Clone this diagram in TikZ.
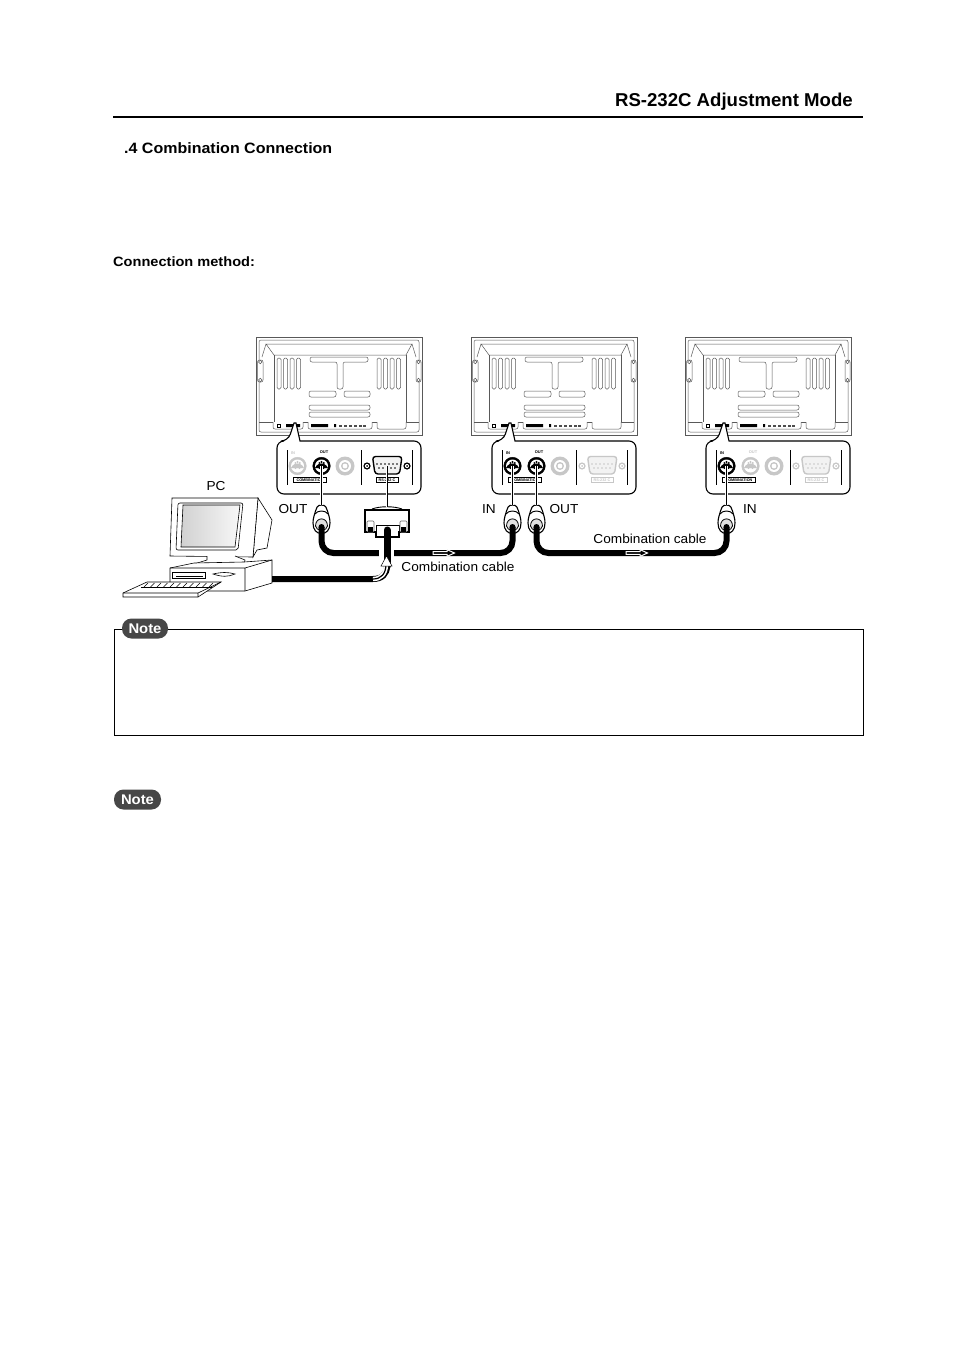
\documentclass[tikz,border=0pt]{standalone}
\usepackage{fontspec}
\setmainfont{Liberation Sans}
\tikzset{
  x=1pt,y=-1pt,
  thinline/.style={draw=black,line width=0.6pt,fill=white},
  panelline/.style={draw=black!65,line width=0.5pt,fill=white},
  calloutbox/.style={draw=black,line width=1.1pt,fill=white,rounded corners=7pt},
  cable/.style={line width=6pt,draw=black,rounded corners=12pt},
  plugbody/.style={minimum width=17pt,minimum height=28pt,inner sep=0pt},
  label/.style={font=\fontsize{13}{15}\selectfont\addfontfeature{FakeStretch=1.05},inner sep=0pt,anchor=center},
  notebadge/.style={fill=black!72,text=white,rounded corners=9.5pt,font=\fontsize{14}{16}\bfseries\selectfont\addfontfeature{FakeStretch=1.06},inner sep=0pt,minimum height=20pt},
  tiny/.style={font=\fontsize{4}{4}\bfseries\selectfont,inner sep=0pt},
  wire/.style={draw=black,line width=1pt,preaction={draw=white,line width=2.6pt}},
  flow/.style={draw=white,fill=black,line width=1pt,line join=miter},
}
% DIN jack: name, x, y, colour
\newcommand\dinjack[4]{%
  \node[circle,fill=#4,draw=#4,minimum size=17.6pt,inner sep=0pt] (#1) at (#2,#3) {};
  \fill[white] (#2,#3) circle (6.5);
  \fill[#4] (#2,#3) ++(-6.5,2) arc[start angle=200,end angle=340,radius=6.9] -- cycle;
  \foreach \dx/\dy in {-4/1,-2.2/-3,0/-4,2.2/-3,4/1,-2/2,2/2,0/1}{\fill[#4] (#2+\dx,#3+\dy) circle (1.05);}
}
% back panel with callout: name, x, y, IN colour, OUT colour, RS colour
\newcommand\backpanel[6]{%
 \begin{scope}[shift={(#2,#3)}]
  \node[rectangle,draw=black!65,line width=0.7pt,fill=white,minimum width=166pt,minimum height=98pt,inner sep=0pt] (#1) at (83,49) {};
  \draw[panelline,rounded corners=2pt] (3,3) rectangle (163,95);
  \draw[panelline] (3,85) -- (163,85);
  \draw[panelline] (10,7) -- (156,7) -- (150,18) -- (18,18) -- cycle;
  \draw[panelline] (18,18) -- (18,85) (150,18) -- (150,85);
  \draw[panelline] (10,7) -- (6,20) (156,7) -- (160,20);
  \foreach \sx in {21,27.5,34,40.5,121,127.5,134,140.5}{\draw[panelline,rounded corners=1.5pt] (\sx,21) rectangle (\sx+4,52);}
  \draw[panelline,rounded corners=2pt] (54,20) -- (112,20) -- (112,25) -- (87,25) -- (87,52) -- (81,52) -- (81,25) -- (54,25) -- cycle;
  \draw[panelline,rounded corners=2pt] (53,54) rectangle (80,60);
  \draw[panelline,rounded corners=2pt] (88,54) rectangle (114,60);
  \draw[panelline,rounded corners=2pt] (53,68) rectangle (114,73);
  \draw[panelline,rounded corners=2pt] (53,75) rectangle (114,80);
  \draw[panelline,rounded corners=2pt] (1.5,23) rectangle (7,45);
  \draw[panelline,rounded corners=2pt] (160,23) rectangle (165,45);
  \foreach \bx in {4.2,162.5}{\foreach \by in {25,43}{\draw[panelline] (\bx,\by) circle (1.8);}}
  \draw[panelline,rounded corners=2pt] (17,85) -- (17,92) -- (47,92) -- (47,85);
  \draw[panelline,rounded corners=2pt] (52,85) -- (52,92) -- (116,92) -- (116,85);
  \draw[panelline,rounded corners=2pt] (121,85) -- (121,92) -- (150,92) -- (150,85);
  \draw[black] (21,87) rectangle (24,90);
  \fill[black] (30,87) rectangle (37,90) (39,87) rectangle (44,90)
     (55,87) rectangle (72,90) (78,87) rectangle (80,90);
  \foreach \tx in {83,88,93,98,103,107}{\fill[black!70] (\tx,87.5) rectangle (\tx+2.5,89.5);}
  % callout
  \draw[calloutbox] (21,104) -- (32,104) [sharp corners] -- (38,86) -- (40,86) -- (44,104) [rounded corners=7pt] -- (165,104) -- (165,157) -- (21,157) -- cycle;
  \draw[black,line width=0.9pt] (31,113) -- (31,148) (105,113) -- (105,148) (156,113) -- (156,148);
  \dinjack{#1in}{41.5}{129}{#4}
  \dinjack{#1out}{65.5}{129}{#5}
  \node[tiny,text=#4] at (37,116) {IN};
  \node[tiny,text=#5] at (68,115.5) {OUT};
  \node[draw=black,line width=0.7pt,minimum width=33pt,minimum height=4.5pt,inner sep=0pt,font=\fontsize{3.8}{4}\bfseries\selectfont] at (54,143) {COMBINATION};
  % audio jack
  \fill[black!22] (89,129) circle (9.5);
  \fill[white] (89,129) circle (6);
  \fill[black!22] (89,129) circle (4);
  \fill[white] (89,129) circle (2.4);
  % D-sub
  \foreach \sx in {111,151}{\fill[#6] (\sx,129) circle (3.6); \fill[white] (\sx,129) circle (2.1); \fill[#6] (\sx,129) circle (1);}
  \draw[draw=#6,line width=1.4pt,fill=black!5,rounded corners=3pt] (116.5,119.5) -- (146,119.5) -- (143.5,137) -- (119,137) -- cycle;
  \node[inner sep=0pt,minimum width=0pt] (#1rs) at (131,129) {};
  \foreach \px in {121,125,129,133,137,141}{\fill[#6] (\px,127) circle (0.8);}
  \foreach \px in {123,127,131,135,139}{\fill[#6] (\px,131) circle (0.8);}
  \node[draw=#6,text=#6,line width=0.7pt,minimum width=22pt,minimum height=4.5pt,inner sep=0pt,font=\fontsize{3.8}{4}\bfseries\selectfont] at (131,143) {RS-232 C};
 \end{scope}
}
% plug: name, x
\newcommand\plug[2]{%
  \node[plugbody] (#1) at (#2,519) {};
  \draw[black,line width=1.1pt,fill=white] (#2,505) .. controls (#2+4,505) and (#2+5.5,508) .. (#2+6,511) .. controls (#2+7,515) and (#2+8.5,518) .. (#2+8.5,523) .. controls (#2+8.5,530) and (#2+5,533.5) .. (#2,533.5) .. controls (#2-5,533.5) and (#2-8.5,530) .. (#2-8.5,523) .. controls (#2-8.5,518) and (#2-7,515) .. (#2-6,511) .. controls (#2-5.5,508) and (#2-4,505) .. cycle;
  \draw[black,line width=0.9pt] (#2-6.5,514) .. controls (#2-4,510) and (#2+4,510) .. (#2+6.5,514);
  \draw[black,line width=0.8pt,fill=black!12] (#2-6,526) .. controls (#2-6,516.5) and (#2+6,516.5) .. (#2+6,526) .. controls (#2+6,531.5) and (#2-6,531.5) .. cycle;
  \coordinate (#1c) at (#2,527);
}
\newcommand\flowarrow[1]{%
  \draw[flow] (#1,551.7) -- (#1+14,551.7) -- (#1+14,549.6) -- (#1+21.5,553) -- (#1+14,556.4) -- (#1+14,554.3) -- (#1,554.3) -- cycle;
}
\begin{document}
\begin{tikzpicture}
\useasboundingbox (0,0) rectangle (954,1351);
\fill[white] (0,0) rectangle (954,1351);
% heading
\node[anchor=east,inner sep=0pt,font=\fontsize{18.6}{22}\bfseries\selectfont] (title) at (853,101.5) {RS-232C Adjustment Mode};
\coordinate (ruleL) at (113,117); \coordinate (ruleR) at (863,117);
\draw[line width=1.8pt] (ruleL) -- (ruleR);
\node[anchor=west,inner sep=0pt,font=\fontsize{15}{18}\bfseries\selectfont\addfontfeature{FakeStretch=1.067}] (sec) at (124,148) {.4 Combination Connection};
\node[anchor=west,inner sep=0pt,font=\fontsize{13.5}{15}\bfseries\selectfont\addfontfeature{FakeStretch=1.08}] (method) at (113,261.5) {Connection method:};
% panels
\backpanel{A}{256}{337}{black!22}{black}{black}
\backpanel{B}{471}{337}{black}{black}{black!22}
\backpanel{C}{685}{337}{black}{black!22}{black!22}
% plugs
\plug{pA}{321.5}
\plug{pB}{512.5}
\plug{pC}{536.5}
\plug{pD}{726.5}
\draw[wire] (Aout.center) -- (pA.north);
\draw[wire] (Bin.center) -- (pB.north);
\draw[wire] (Bout.center) -- (pC.north);
\draw[wire] (Cin.center) -- (pD.north);
% D-sub cable connector
\node[rectangle,inner sep=0pt,minimum width=0pt] (db) at (387,520) {};
\draw[thinline,line width=0.9pt] (372,509) .. controls (380,506) and (394,506) .. (402,509);
\draw[wire] (Ars.center) -- (387,507);
\draw[thinline,line width=1.1pt] (365,510) -- (409,510) -- (409,532) -- (399,532) -- (399,537) -- (376,537) -- (376,532) -- (365,532) -- cycle;
\draw[black,line width=0.8pt] (376,525) -- (399,525) (376,525) -- (376,532) (399,525) -- (399,532);
\foreach \sx in {370.5,403.5}{
  \draw[black!60,line width=0.6pt,fill=white,rounded corners=1pt] (\sx-3.5,521) rectangle (\sx+3.5,532);
  \fill[black] (\sx-2.5,527) rectangle (\sx+2.5,532);
  \fill[white] (\sx,525) circle (1.3);
}
% cables
\draw[cable] (pAc) -- (pAc |- 0,553) -- (pBc |- 0,553) -- (pBc);
\draw[cable] (pCc) -- (pCc |- 0,553) -- (pDc |- 0,553) -- (pDc);
\fill[black] (pAc) circle (3) (pBc) circle (3) (pCc) circle (3) (pDc) circle (3);
\fill[white] (379,549) rectangle (394,557);
% PC
\draw[thinline] (258,498) -- (272,520) -- (267,548) -- (257,550) -- (253,557) -- cycle;
\draw[thinline] (172,498) -- (258,498) -- (253,557) -- (170,556) -- cycle;
\draw[thinline,rounded corners=2pt] (178,503) -- (243,503) -- (238,550) -- (176,550) -- cycle;
\shade[left color=black!18,right color=black!3] (183,505) -- (240,505) -- (235,547) -- (181,547) -- cycle;
\draw[black,line width=0.6pt] (183,505) -- (240,505) -- (235,547) -- (181,547) -- cycle;
\draw[thinline] (207,556) -- (207,560) -- (194,564) -- (195,566) -- (244,564) -- (245,560) -- (235,556);
\node[inner sep=0pt] (pc) at (222,579) {};
\draw[thinline] (170,568) -- (194,563) -- (244,562) -- (272,560) -- (272,583) -- (245,591) -- (170,591) -- cycle;
\draw[thinline,fill=none] (170,568) -- (245,568) -- (245,591) (245,568) -- (272,560);
\draw[thinline] (172,572) rectangle (205,578);
\draw[black,line width=1pt] (176,576) -- (203,576);
\draw[thinline] (213,574) .. controls (222,572) and (228,572) .. (235,574) .. controls (228,577) and (222,577) .. (213,574) -- cycle;
\draw[thinline] (123,593) -- (147,582) -- (221,582) -- (198,597) -- (123,597) -- cycle;
\draw[thinline,fill=none] (123,593) -- (198,593) -- (221,582) (198,593) -- (198,597);
\foreach \k in {0,1,...,10}{\draw[black,line width=0.4pt] (148+\k*6.5,583) -- (144+\k*6.5,587);}
\draw[black,line width=0.4pt] (141,587) -- (212,587);
% PC cable
\draw[line width=6pt,black] (272,579) -- (373,579) .. controls (382,579) and (387,574) .. (387,566);
\draw[line width=7pt,black,line cap=round] (387,566) -- (387,530);
\draw[white,line width=4.4pt] (373,579) .. controls (381,579) and (386,574) .. (386,564);
\draw[black,line width=1.2pt] (373,579) .. controls (381,579) and (386,574) .. (386,564);
\draw[draw=black,fill=white,line width=0.5pt] (381,566) -- (386.5,556) -- (392,566) -- cycle;
% flow arrows
\flowarrow{433}
\flowarrow{626}
% labels
\node[label] (lpc) at (216,486) {PC};
\node[label] (lo1) at (293,509) {OUT};
\node[label] (li2) at (489,509) {IN};
\node[label] (lo2) at (564,509) {OUT};
\node[label] (li3) at (750,509) {IN};
\node[label] (lc1) at (458,567) {Combination cable};
\node[label] (lc2) at (650,539) {Combination cable};
% note boxes
\draw[black,line width=0.8pt] (114,629) rectangle (863,735);
\node[notebadge,minimum width=46pt] (n1) at (145,628.5) {Note};
\node[notebadge,minimum width=47pt] (n2) at (137.5,799.5) {Note};
\end{tikzpicture}
\end{document}
